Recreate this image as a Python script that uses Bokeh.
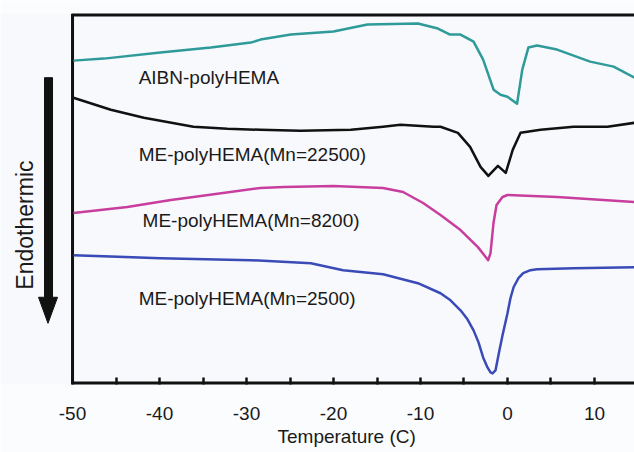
import math
from bokeh.plotting import figure
from bokeh.models import Range1d, FixedTicker, ColumnDataSource, Title
from bokeh.core.properties import value
from bokeh.embed import file_html
from bokeh.resources import INLINE

# ---- data (temperature in C, heat flow in arbitrary offset units) ----
aibn_t = [-49.9, -46.4, -39.9, -34.1, -29.5, -28.4, -24.9, -20.0, -16.1, -10.3, -8.0,
          -6.6, -5.4, -3.9, -2.8, -1.6, -0.8, 0.0, 1.1, 1.7, 2.4, 3.4, 5.7, 9.5, 12.2, 14.6]
aibn_h = [32.2, 32.4, 33.0, 33.5, 34.0, 34.3, 34.8, 35.1, 35.8, 35.9, 35.4,
          34.8, 34.8, 34.1, 32.3, 29.3, 28.8, 28.6, 27.9, 31.3, 33.5, 33.7, 33.3, 32.1, 31.6, 30.5]

mn22500_t = [-49.9, -45.6, -41.8, -36.1, -32.2, -28.4, -23.8, -18.0, -14.3, -12.3, -8.5,
             -7.7, -5.7, -4.3, -3.1, -2.2, -1.1, -0.2, 0.6, 1.5, 3.8, 7.6, 11.5, 14.6]
mn22500_h = [28.5, 27.3, 26.5, 25.6, 25.4, 25.3, 25.2, 25.3, 25.6, 25.8, 25.6,
             25.6, 25.0, 23.6, 21.6, 20.7, 21.7, 21.0, 23.3, 25.0, 25.3, 25.6, 25.6, 26.0]

mn8200_t = [-49.9, -43.7, -38.7, -36.1, -28.4, -25.7, -20.0, -14.3, -12.0, -9.7, -7.7,
            -5.4, -3.4, -2.22, -1.95, -1.61, -1.26, -0.57, 0.0, 5.7, 14.6]
mn8200_h = [17.0, 17.6, 18.3, 18.6, 19.5, 19.6, 19.7, 19.5, 19.1, 18.0, 16.8,
            15.3, 13.6, 12.3, 13.0, 16.0, 17.8, 18.6, 18.8, 18.6, 18.1]

mn2500_t = [-49.9, -39.9, -29.5, -22.6, -18.9, -14.3, -10.3, -7.7, -6.55, -5.4, -4.6,
            -3.9, -3.33, -2.8, -2.3, -1.95, -1.72, -1.38, -1.0, -0.57, 0.0, 0.34, 0.7,
            1.26, 1.8, 2.64, 3.4, 7.6, 14.6]
mn2500_h = [12.8, 12.5, 12.3, 12.0, 11.3, 10.9, 10.0, 9.0, 8.3, 7.3, 6.4,
            5.3, 4.1, 2.6, 1.6, 1.1, 1.0, 1.3, 3.0, 4.8, 7.0, 8.5, 9.6,
            10.5, 11.0, 11.3, 11.4, 11.5, 11.6]

series_colors = ["#2f9a9a", "#111111", "#c83e9e", "#3a4bb8"]

label_texts = ["AIBN-polyHEMA", "ME-polyHEMA(Mn=22500)", "ME-polyHEMA(Mn=8200)", "ME-polyHEMA(Mn=2500)"]
label_t = [-42.4, -42.4, -41.95, -42.4]
label_h = [30.5, 22.8, 16.3, 8.5]

x_ticks = [-50, -40, -30, -20, -10, 0, 10]
x_minor_ticks = [-45, -35, -25, -15, -5, 5]
y_label = "Endothermic"
x_label = "Temperature (C)"

FONT = "Liberation Sans"
INK = "#111111"

X0, X1 = -50, 14.6          # data extent of the axes box
Y0, Y1 = -0.1, 36.9

p = figure(width=634, height=452, output_backend="svg", toolbar_location=None,
           x_range=Range1d(-58.28, X1), y_range=Range1d(Y0, Y1),
           min_border_left=0, min_border_right=0, min_border_top=13, min_border_bottom=68)
p.background_fill_color = "#f8f9fc"
p.border_fill_color = "#fbfcfe"
p.outline_line_color = None
p.grid.visible = False
p.yaxis.visible = False

# bottom axis: ticks and labels from bokeh, box lines drawn below
xa = p.xaxis[0]
xa.ticker = FixedTicker(ticks=x_ticks, minor_ticks=x_minor_ticks)
xa.major_label_overrides = {t: str(t) for t in x_ticks}
xa.axis_line_color = None
xa.major_tick_in = 7
xa.major_tick_out = 0
xa.minor_tick_in = 7
xa.minor_tick_out = 0
xa.major_tick_line_width = 2.5
xa.minor_tick_line_width = 2.5
xa.major_tick_line_color = INK
xa.minor_tick_line_color = INK
xa.major_label_text_font = FONT
xa.major_label_text_font_size = "19px"
xa.major_label_text_color = "#1a1a1a"
xa.major_label_standoff = 22

# axis title placed under the tick labels, offset to sit under the axes box
p.add_layout(Title(text=x_label, align="left", offset=277, standoff=2,
                   text_font=FONT, text_font_size="19px", text_font_style="normal",
                   text_color="#1a1a1a"), "below")

# axes box: bottom, left, top
p.segment(x0=[X0, X0, X0], y0=[Y0, Y0, Y1], x1=[X1, X0, X1], y1=[Y0, Y1, Y1],
          line_color=INK, line_width=[6, 3, 6])

for t, h, c in zip([aibn_t, mn22500_t, mn8200_t, mn2500_t],
                   [aibn_h, mn22500_h, mn8200_h, mn2500_h], series_colors):
    p.line(t, h, line_color=c, line_width=2.5, line_join="round")

src = ColumnDataSource(dict(x=label_t, y=label_h, text=label_texts))
p.text(x="x", y="y", text="text", source=src, text_font=value(FONT), text_font_size="19px",
       text_color="#1a1a1a", text_align="left", text_baseline="middle")

# endothermic arrow (decoration left of the axes box)
p.patch(x=[-53.22, -52.30, -52.30, -51.72, -52.82, -53.91, -53.22],
        y=[30.5, 30.5, 8.6, 8.6, 6.0, 8.6, 8.6],
        fill_color=INK, line_color=INK, line_width=1)
p.text(x=[-55.5], y=[15.8], text=[y_label], angle=math.pi / 2,
       text_font=value(FONT), text_font_size="23px", text_color="#1a1a1a",
       text_align="center", text_baseline="middle")

open("out.html", "w").write(file_html(p, INLINE))
